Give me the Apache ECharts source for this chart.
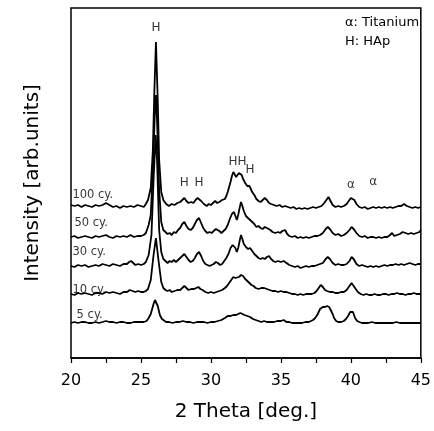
<!DOCTYPE html>
<html>
<head>
<meta charset="utf-8">
<script src="https://cdn.jsdelivr.net/npm/echarts@6/dist/echarts.min.js"></script>
<style>
  html, body { margin: 0; padding: 0; background: #fff; }
  #main { width: 434px; height: 431px; }
</style>
</head>
<body>
<div id="main"></div>
<script>
// XRD patterns, [2theta, intensity (arb.)], each pattern already offset upwards
var cy100 = [
  [20.0,153],[20.25,152],[20.5,153],[20.75,151],[21.0,153],[21.25,152],[21.5,151],[21.75,153],[22.0,152],[22.25,153],
  [22.5,155],[22.75,153],[23.0,151],[23.25,152],[23.5,150],[23.75,152],[24.0,151],[24.25,152],[24.5,151],[24.75,153],
  [25.0,152],[25.2,151],[25.35,154],[25.5,158],[25.7,170],[25.85,208],[25.95,263],[26.07,316],[26.2,258],[26.3,198],
  [26.45,166],[26.6,158],[26.8,154],[27.0,152],[27.2,154],[27.4,153],[27.6,155],[27.8,156],[27.95,158],[28.1,160],
  [28.25,157],[28.4,155],[28.6,156],[28.75,155],[28.9,158],[29.05,160],[29.15,161],[29.3,157],[29.5,154],[29.7,152],
  [29.85,154],[30.0,153],[30.15,155],[30.3,157],[30.45,155],[30.6,156],[30.8,158],[31.0,159],[31.1,162],[31.2,166],
  [31.3,171],[31.4,176],[31.5,182],[31.6,186],[31.7,184],[31.8,181],[31.9,183],[32.0,185],[32.1,187],[32.2,183],
  [32.3,179],[32.45,175],[32.6,172],[32.75,172],[32.85,169],[32.95,166],[33.1,163],[33.25,159],[33.4,157],[33.55,156],
  [33.7,158],[33.85,160],[34.0,158],[34.15,155],[34.3,154],[34.5,153],[34.7,152],[34.9,153],[35.1,151],[35.3,152],
  [35.5,151],[35.7,150],[35.9,151],[36.1,149],[36.3,150],[36.5,149],[36.7,150],[36.9,149],[37.1,150],[37.3,151],
  [37.5,150],[37.7,151],[37.9,152],[38.1,155],[38.25,158],[38.4,161],[38.55,157],[38.7,153],[38.9,151],[39.1,152],
  [39.3,151],[39.5,152],[39.7,154],[39.85,157],[40.0,160],[40.1,161],[40.25,158],[40.4,154],[40.6,151],[40.8,150],
  [41.0,151],[41.2,149],[41.4,150],[41.6,151],[41.8,150],[42.0,151],[42.2,150],[42.4,151],[42.6,150],[42.8,151],
  [43.0,150],[43.2,151],[43.4,152],[43.6,152],[43.8,154],[44.0,152],[44.2,151],[44.4,150],[44.6,151],[44.8,150],
  [45.0,151]
];
var cy50 = [
  [20.0,121],[20.25,122],[20.5,120],[20.75,121],[21.0,122],[21.25,121],[21.5,120],[21.75,122],[22.0,121],[22.25,122],
  [22.5,123],[22.75,121],[23.0,120],[23.25,122],[23.5,121],[23.75,122],[24.0,121],[24.25,123],[24.5,121],[24.75,122],
  [25.0,122],[25.2,123],[25.35,125],[25.55,133],[25.7,143],[25.85,188],[26.0,248],[26.07,263],[26.15,238],[26.3,168],
  [26.45,136],[26.6,128],[26.75,126],[26.9,124],[27.05,125],[27.2,123],[27.35,126],[27.5,125],[27.65,128],[27.8,130],
  [27.95,134],[28.1,136],[28.25,132],[28.4,129],[28.55,128],[28.7,130],[28.85,134],[29.0,138],[29.15,140],[29.3,135],
  [29.45,130],[29.6,127],[29.75,125],[29.9,126],[30.05,125],[30.2,127],[30.35,129],[30.45,130],[30.6,127],[30.75,125],
  [30.9,127],[31.05,129],[31.2,133],[31.35,139],[31.5,144],[31.65,146],[31.75,142],[31.85,138],[31.95,143],[32.05,150],
  [32.15,156],[32.25,152],[32.35,147],[32.5,142],[32.65,140],[32.8,138],[32.95,136],[33.1,134],[33.25,131],[33.4,132],
  [33.55,130],[33.7,129],[33.85,131],[34.0,130],[34.1,132],[34.25,128],[34.4,126],[34.6,125],[34.8,126],[34.95,125],
  [35.1,127],[35.3,128],[35.45,124],[35.6,122],[35.8,121],[36.0,122],[36.2,120],[36.4,121],[36.6,120],[36.8,121],
  [37.0,120],[37.2,121],[37.4,122],[37.6,122],[37.8,123],[38.0,125],[38.2,129],[38.35,131],[38.5,129],[38.7,125],
  [38.9,123],[39.1,124],[39.3,122],[39.5,123],[39.7,125],[39.9,128],[40.05,131],[40.2,129],[40.4,125],[40.6,122],
  [40.8,121],[41.0,122],[41.2,120],[41.4,121],[41.6,121],[41.8,120],[42.0,121],[42.2,120],[42.4,121],[42.6,121],
  [42.8,123],[42.95,125],[43.1,122],[43.3,123],[43.5,124],[43.7,126],[43.9,125],[44.1,124],[44.3,125],[44.5,124],
  [44.7,125],[44.9,126],[45.0,128]
];
var cy30 = [
  [20.0,92],[20.25,91],[20.5,93],[20.75,92],[21.0,93],[21.25,91],[21.5,92],[21.75,93],[22.0,92],[22.25,94],
  [22.5,93],[22.75,92],[23.0,94],[23.25,93],[23.5,92],[23.75,94],[24.0,94],[24.15,96],[24.3,97],[24.45,95],
  [24.6,93],[24.8,94],[25.0,93],[25.2,94],[25.35,96],[25.55,103],[25.75,123],[25.9,178],[26.05,223],[26.15,198],
  [26.3,128],[26.45,106],[26.6,99],[26.75,97],[26.9,95],[27.05,97],[27.2,96],[27.35,98],[27.5,96],[27.65,98],
  [27.8,100],[27.95,102],[28.1,104],[28.25,101],[28.4,98],[28.55,96],[28.7,97],[28.85,100],[29.0,104],[29.15,106],
  [29.3,102],[29.45,97],[29.6,94],[29.75,93],[29.9,92],[30.05,93],[30.2,94],[30.35,96],[30.5,95],[30.65,93],
  [30.8,94],[30.95,97],[31.1,100],[31.25,104],[31.4,110],[31.55,113],[31.65,114],[31.75,110],[31.85,106],[31.95,110],
  [32.05,117],[32.15,123],[32.25,119],[32.35,114],[32.5,111],[32.65,109],[32.8,110],[32.95,107],[33.1,104],[33.25,102],
  [33.4,100],[33.55,99],[33.7,100],[33.85,99],[34.0,101],[34.15,102],[34.3,99],[34.45,97],[34.6,96],[34.8,97],
  [35.0,96],[35.2,97],[35.4,95],[35.6,93],[35.8,92],[36.0,91],[36.2,92],[36.4,90],[36.6,91],[36.8,92],
  [37.0,91],[37.2,92],[37.4,92],[37.6,93],[37.8,94],[38.0,95],[38.2,99],[38.35,101],[38.5,99],[38.7,95],
  [38.9,93],[39.1,94],[39.3,93],[39.5,93],[39.7,94],[39.9,97],[40.05,101],[40.2,99],[40.4,94],[40.6,92],
  [40.8,93],[41.0,92],[41.2,91],[41.4,92],[41.6,91],[41.8,92],[42.0,91],[42.2,92],[42.4,93],[42.6,92],
  [42.8,93],[43.0,93],[43.2,94],[43.4,93],[43.6,94],[43.8,93],[44.0,94],[44.2,95],[44.4,94],[44.6,93],
  [44.8,94],[45.0,94]
];
var cy10 = [
  [20.0,64],[20.25,63],[20.5,65],[20.75,64],[21.0,65],[21.25,64],[21.5,63],[21.75,65],[22.0,65],[22.25,64],
  [22.5,66],[22.75,65],[23.0,66],[23.25,65],[23.5,64],[23.75,66],[24.0,66],[24.2,68],[24.4,67],[24.6,66],
  [24.8,67],[25.0,66],[25.2,66],[25.35,67],[25.5,69],[25.7,78],[25.9,103],[26.07,120],[26.25,98],[26.45,76],
  [26.6,70],[26.75,68],[26.9,67],[27.05,68],[27.2,66],[27.4,67],[27.6,68],[27.8,68],[27.95,70],[28.1,72],
  [28.25,70],[28.4,68],[28.6,69],[28.8,69],[28.95,70],[29.1,71],[29.25,69],[29.4,68],[29.6,66],[29.8,65],
  [30.0,66],[30.2,65],[30.4,66],[30.6,67],[30.8,68],[31.0,70],[31.15,72],[31.3,75],[31.45,78],[31.6,81],
  [31.75,80],[31.85,78],[32.0,81],[32.15,83],[32.3,82],[32.45,79],[32.6,77],[32.75,75],[32.9,73],[33.05,72],
  [33.2,70],[33.4,69],[33.6,70],[33.8,70],[34.0,69],[34.2,68],[34.4,67],[34.6,67],[34.8,66],[35.0,67],
  [35.2,66],[35.4,66],[35.6,65],[35.8,64],[36.0,64],[36.2,63],[36.4,64],[36.6,63],[36.8,64],[37.0,64],
  [37.2,64],[37.4,65],[37.55,67],[37.7,70],[37.85,73],[38.0,71],[38.15,68],[38.3,67],[38.5,66],[38.7,66],
  [38.9,65],[39.1,65],[39.3,66],[39.5,66],[39.7,68],[39.85,71],[40.05,75],[40.2,72],[40.35,69],[40.5,66],
  [40.7,64],[40.9,63],[41.1,64],[41.3,63],[41.5,63],[41.7,64],[41.9,63],[42.1,63],[42.3,64],[42.5,64],
  [42.7,63],[42.9,64],[43.1,64],[43.3,65],[43.5,64],[43.7,64],[43.9,63],[44.1,64],[44.3,64],[44.5,65],
  [44.7,64],[44.9,64],[45.0,64]
];
var cy5 = [
  [20.0,35],[20.25,36],[20.5,35],[20.75,36],[21.0,36],[21.25,35],[21.5,35],[21.75,36],[22.0,35],[22.25,36],
  [22.5,37],[22.75,36],[23.0,36],[23.25,35],[23.5,36],[23.75,36],[24.0,35],[24.25,35],[24.5,36],[24.75,36],
  [25.0,36],[25.2,36],[25.4,37],[25.55,40],[25.7,44],[25.8,49],[25.9,54],[26.0,58],[26.1,57],[26.2,52],
  [26.35,43],[26.5,39],[26.6,37],[26.8,36],[27.0,36],[27.25,35],[27.5,36],[27.75,36],[28.0,37],[28.25,36],
  [28.5,36],[28.75,35],[29.0,36],[29.25,36],[29.5,36],[29.75,35],[30.0,36],[30.25,36],[30.5,37],[30.75,38],
  [31.0,40],[31.2,42],[31.4,42],[31.6,43],[31.8,43],[31.95,44],[32.1,45],[32.25,44],[32.4,43],[32.6,42],
  [32.8,41],[33.0,39],[33.2,38],[33.4,37],[33.6,36],[33.8,37],[34.0,36],[34.25,36],[34.5,36],[34.75,37],
  [35.0,37],[35.2,38],[35.4,36],[35.6,36],[35.8,35],[36.0,35],[36.25,35],[36.5,35],[36.75,36],[37.0,36],
  [37.15,37],[37.3,38],[37.45,40],[37.6,43],[37.7,46],[37.8,49],[37.9,50],[38.0,51],[38.15,51],[38.3,52],
  [38.45,51],[38.55,49],[38.7,44],[38.8,40],[38.95,37],[39.1,36],[39.3,36],[39.5,37],[39.65,39],[39.8,42],
  [39.95,46],[40.05,48],[40.15,46],[40.3,40],[40.45,37],[40.6,36],[40.8,35],[41.0,35],[41.25,35],[41.5,36],
  [41.75,35],[42.0,35],[42.25,35],[42.5,35],[42.75,35],[43.0,35],[43.25,36],[43.5,35],[43.75,35],[44.0,35],
  [44.25,35],[44.5,35],[44.75,35],[45.0,35]
];

// curve names, placed at the left end of each pattern
var curveLabels = [[20.1,163,'100 cy.'],[20.25,135,'50 cy.'],[20.1,106,'30 cy.'],[20.1,68,'10 cy.'],[20.4,43,'5 cy.']];
// phase markers over the peaks
var peakMarks = [[26.07,330,'H'],[28.1,175,'H'],[29.15,175,'H'],[31.9,196,'HH'],[32.8,188,'H'],[40.0,173,'α'],[41.6,176,'α']];

var xTicks = [20, 25, 30, 35, 40, 45];

var font = 'DejaVu Sans';
var chart = echarts.init(document.getElementById('main'));

function curve(d) {
  return {
    type: 'line', data: d, symbol: 'none', silent: true,
    lineStyle: { color: '#000', width: 1.8 }
  };
}

var option = {
  animation: false,
  grid: { left: 71, right: 13, top: 8, bottom: 73, show: true, borderColor: '#000', borderWidth: 1.5 },
  xAxis: {
    type: 'value', min: xTicks[0], max: xTicks[xTicks.length - 1], interval: 5,
    name: '2 Theta [deg.]', nameLocation: 'middle', nameGap: 44,
    nameTextStyle: { fontFamily: font, fontSize: 20, color: '#000' },
    axisLine: { lineStyle: { color: '#000', width: 1.5 } },
    axisTick: { length: 5, lineStyle: { color: '#000', width: 1.2 } },
    minorTick: { show: true, splitNumber: 2, length: 5, lineStyle: { color: '#000', width: 1.2 } },
    axisLabel: { fontFamily: font, fontSize: 16, color: '#000', margin: 15 },
    splitLine: { show: false }
  },
  yAxis: {
    type: 'value', min: 0, max: 350,
    name: 'Intensity [arb.units]', nameLocation: 'middle', nameGap: 28,
    nameTextStyle: { fontFamily: font, fontSize: 20, color: '#000' },
    axisLine: { show: false }, axisTick: { show: false }, axisLabel: { show: false },
    splitLine: { show: false }
  },
  graphic: [
    { type: 'text', left: 345, top: 16, style: { text: 'α: Titanium', font: '13px ' + font, fill: '#000' } },
    { type: 'text', left: 345, top: 35, style: { text: 'H: HAp', font: '13px ' + font, fill: '#000' } }
  ],
  series: [
    curve(cy100), curve(cy50), curve(cy30), curve(cy10), curve(cy5),
    {
      type: 'scatter', data: curveLabels, symbolSize: 0, silent: true,
      label: { show: true, position: 'right', distance: 0, formatter: function (p) { return p.data[2]; },
        fontFamily: font, fontSize: 11.5, color: '#000' }
    },
    {
      type: 'scatter', data: peakMarks, symbolSize: 0, silent: true,
      label: { show: true, position: 'inside', formatter: function (p) { return p.data[2]; },
        fontFamily: font, fontSize: 12, color: '#000' }
    }
  ]
};

chart.setOption(option);
</script>
</body>
</html>
